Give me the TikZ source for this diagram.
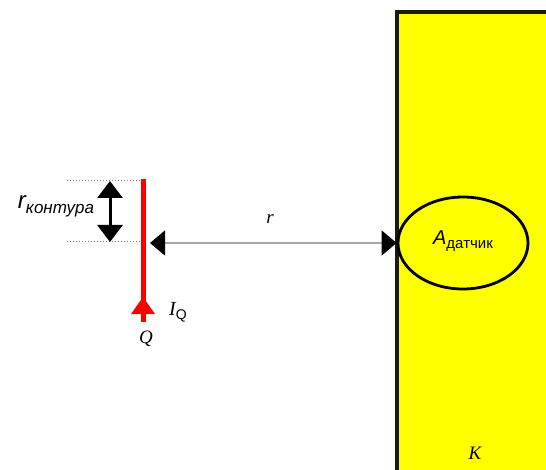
\documentclass[tikz,border=0pt]{standalone}
\usepackage{fontspec}
\setmainfont{Liberation Serif}
\setsansfont{Liberation Sans}
\usetikzlibrary{arrows.meta,shapes.geometric}
\definecolor{wallyellow}{RGB}{255,255,0}
\definecolor{wirered}{RGB}{255,0,0}
\begin{document}
\begin{tikzpicture}[x=1pt,y=-1pt,
  dimline/.style={draw=gray!70,line width=1.5pt},
  guide/.style={draw=gray,dotted,line width=1pt},
  lbl/.style={inner sep=0pt}]
\useasboundingbox (0,0) rectangle (546,470);
\clip (0,0) rectangle (546,470);
% wall
\path[fill=wallyellow,draw=black!90,line width=3.5pt] (397,12) rectangle (580,500);
\node[lbl,font=\itshape\fontsize{19}{19}\selectfont] (K) at (475,453) {K};
% sensor
\node[ellipse,draw=black,line width=2.8pt,fill=wallyellow,minimum width=130pt,minimum height=92pt,inner sep=0pt] (sensor) at (463,243) {};
\node[lbl] (A) at (463,241) {\sffamily\itshape\fontsize{20}{20}\selectfont A\raisebox{-4pt}{\upshape\fontsize{15}{15}\selectfont датчик}};
% conductor
\coordinate (qtop) at (143,179);
\coordinate (qbot) at (143,322);
\draw[wirered,line width=5pt] (qtop) -- (qbot);
\fill[wirered] (131,314) -- (155,314) -- (143,297) -- cycle;
\node[lbl,font=\itshape\fontsize{20}{20}\selectfont] (IQ) at (178,312) {I\raisebox{-4pt}{\upshape\sffamily\fontsize{14}{14}\selectfont Q}};
\node[lbl,font=\itshape\fontsize{19}{19}\selectfont] (Q) at (146,339) {Q};
% guides
\coordinate (g1a) at (67,181);
\coordinate (g1b) at (142,181);
\coordinate (g2a) at (67,242);
\coordinate (g2b) at (142,242);
\draw[guide] (g1a) -- (g1b);
\draw[guide] (g2a) -- (g2b);
% r contour arrow
\coordinate (c1) at (110,181);
\coordinate (c2) at (110,242);
\coordinate (cm) at (110,211);
\draw[black,line width=3pt,-{Triangle[length=17pt,width=25pt]}] (cm) -- (c1);
\draw[black,line width=3pt,-{Triangle[length=17pt,width=25pt]}] (cm) -- (c2);
\node[lbl] (rc) at (56,206) {\sffamily\itshape\fontsize{24}{24}\selectfont r\raisebox{-5pt}{\fontsize{17}{17}\selectfont контура}};
% distance arrow
\coordinate (rl) at (150,243);
\draw[dimline,{Triangle[length=15pt,width=25pt,black]}-{Triangle[length=15pt,width=25pt,black]}] (rl) -- (sensor.west);
\node[lbl,font=\itshape\fontsize{19}{19}\selectfont] (r) at (270,219) {r};
\end{tikzpicture}
\end{document}
